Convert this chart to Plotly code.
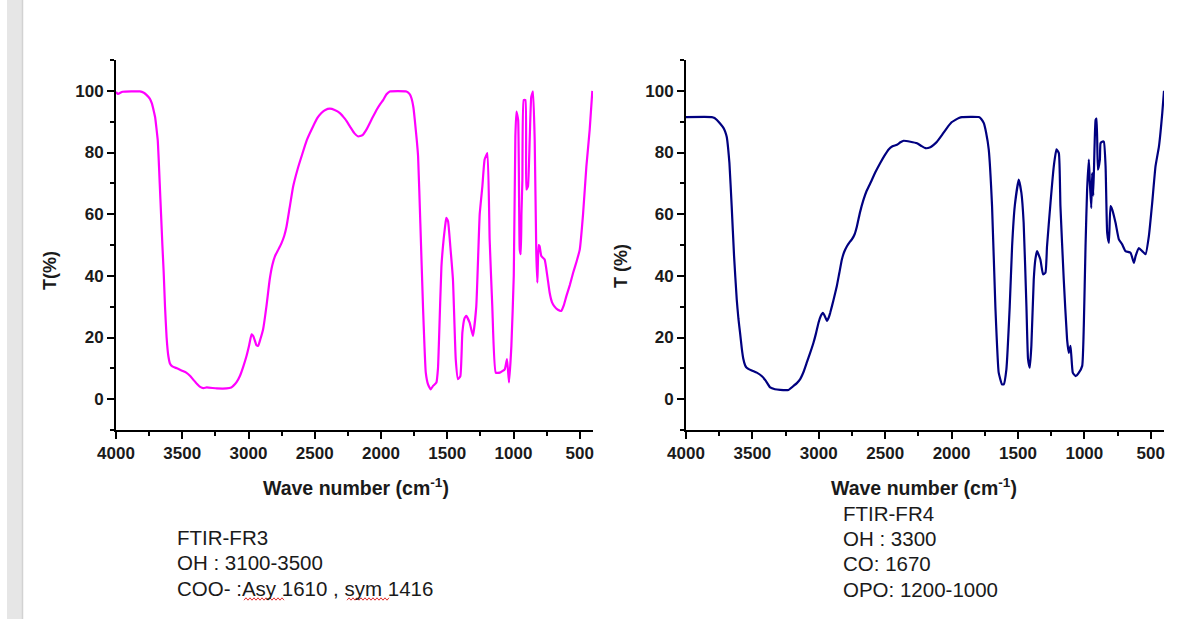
import plotly.graph_objects as go

W, H = 1190, 619

# ---------------- data ----------------
fr3_wn = [4000, 3985, 3950, 3820, 3790, 3770, 3745, 3730, 3715, 3705, 3695, 3685, 3678, 3670,
          3660, 3650, 3640, 3630, 3618, 3605, 3592, 3575, 3540, 3500, 3470, 3440, 3420, 3390,
          3365, 3340, 3315, 3240, 3165, 3130, 3115, 3090, 3065, 3040, 3015, 2995, 2977, 2965,
          2952, 2940, 2927, 2910, 2890, 2865, 2840, 2820, 2800, 2775, 2750, 2730, 2713, 2690,
          2663, 2630, 2600, 2560, 2512, 2480, 2450, 2420, 2386, 2350, 2310, 2270, 2235, 2200,
          2172, 2140, 2110, 2070, 2034, 2005, 1984, 1960, 1934, 1808, 1785, 1770, 1755, 1745,
          1730, 1720, 1703, 1683, 1662, 1645, 1625, 1607, 1582, 1570, 1562, 1544, 1527, 1515,
          1507, 1494, 1477, 1457, 1436, 1419, 1401, 1386, 1370, 1356, 1331, 1306, 1281, 1255,
          1235, 1218, 1197, 1180, 1160, 1134, 1104, 1066, 1049, 1034, 1016, 998, 986, 978,
          965, 953, 945, 940, 933, 923, 910, 903, 891, 878, 866, 853, 840, 828, 820, 810,
          803, 790, 765, 745, 727, 710, 690, 665, 640, 620, 601, 575, 550, 525, 500, 475,
          450, 425, 405]
fr3_t = [99.6, 99.0, 99.7, 99.8, 99.4, 98.7, 97.5, 96.0, 93.5, 91.5, 88.0, 84.0, 78.0, 70.0,
         60.0, 50.0, 41.0, 30.0, 20.0, 14.0, 11.5, 10.6, 10.0, 9.2, 8.6, 7.5, 6.5, 5.0,
         4.0, 3.6, 3.8, 3.5, 3.5, 3.8, 4.3, 5.5, 7.5, 10.5, 14.0, 17.5, 21.0, 20.5,
         19.0, 17.5, 17.3, 19.5, 22.6, 30.0, 38.8, 43.5, 46.4, 48.5, 50.7, 53.0, 56.0, 62.0,
         69.0, 74.5, 78.7, 84.0, 88.5, 91.2, 92.8, 93.8, 94.2, 93.8, 92.8, 90.8, 88.5, 86.2,
         85.2, 85.6, 87.4, 90.8, 93.8, 95.8, 97.0, 98.8, 99.8, 99.8, 99.0, 97.6, 94.5, 90.6,
         84.0, 78.7, 57.0, 30.0, 8.6, 4.8, 3.2, 4.3, 5.4, 10.0, 19.4, 43.0, 52.0, 56.5,
         58.8, 57.7, 49.6, 38.8, 13.0, 6.5, 7.5, 21.6, 26.2, 27.0, 24.8, 20.5, 30.0, 60.0,
         69.0, 77.7, 79.8, 51.8, 30.0, 8.6, 8.6, 9.7, 13.0, 5.4, 17.3, 40.0, 85.2, 93.3,
         90.6, 48.5, 47.0, 60.0, 71.0, 97.0, 97.0, 68.0, 69.0, 84.0, 98.0, 99.8, 84.0, 47.5, 37.8, 50.0,
         49.6, 46.4, 45.3, 40.0, 34.5, 31.5, 30.0, 29.0, 28.6, 30.5, 33.4, 37.0, 41.0, 44.5, 48.5, 60.0,
         75.5, 87.4, 100.0]

fr4_wn = [4000, 3806, 3785, 3769, 3745, 3718, 3705, 3693, 3683, 3673, 3656, 3638, 3618, 3605,
          3593, 3580, 3568, 3555, 3543, 3505, 3467, 3430, 3400, 3366, 3330, 3291, 3228, 3190,
          3165, 3140, 3115, 3090, 3065, 3040, 3020, 3002, 2985, 2969, 2955, 2939, 2925, 2914,
          2890, 2864, 2845, 2826, 2808, 2788, 2770, 2751, 2730, 2713, 2690, 2663, 2640, 2612,
          2575, 2537, 2505, 2474, 2445, 2411, 2385, 2361, 2310, 2260, 2230, 2197, 2160, 2135,
          2110, 2070, 2034, 2000, 1971, 1945, 1921, 1795, 1775, 1757, 1740, 1720, 1695, 1670,
          1645, 1620, 1607, 1587, 1562, 1544, 1524, 1494, 1474, 1457, 1436, 1424, 1411, 1399,
          1381, 1369, 1356, 1331, 1311, 1293, 1281, 1255, 1230, 1210, 1192, 1180, 1155, 1130,
          1117, 1104, 1087, 1066, 1041, 1016, 1004, 991, 979, 966, 959, 948, 941, 933,
          923, 915, 908, 898, 883, 878, 866, 853, 840, 828, 815, 803, 790, 765, 740, 715,
          690, 652, 627, 614, 589, 564, 539, 514, 489, 464, 438, 413, 400]
fr4_t = [91.5, 91.5, 91.2, 90.6, 89.5, 88.0, 86.8, 85.0, 81.5, 76.6, 62.6, 46.4, 32.4, 26.0,
         21.6, 16.5, 13.0, 11.0, 10.2, 9.3, 8.6, 7.5, 6.0, 3.8, 3.2, 3.0, 3.0, 4.3,
         5.2, 6.5, 8.8, 11.9, 15.0, 18.3, 21.5, 24.8, 27.0, 28.0, 27.0, 25.4, 26.5, 28.0,
         32.0, 36.7, 41.0, 45.3, 47.8, 49.6, 50.8, 51.8, 53.5, 56.0, 60.5, 64.7, 67.5, 70.0,
         73.5, 76.6, 79.0, 81.0, 82.0, 82.5, 83.3, 83.8, 83.5, 83.0, 82.2, 81.4, 81.7, 82.5,
         83.5, 85.8, 88.0, 89.8, 90.6, 91.2, 91.5, 91.5, 90.8, 89.5, 86.5, 81.0, 62.6, 30.0,
         8.6, 4.8, 4.8, 9.7, 30.0, 49.6, 62.6, 71.2, 66.9, 57.2, 30.0, 13.0, 10.2, 17.3,
         38.8, 45.3, 48.0, 45.3, 40.5, 41.0, 49.6, 63.6, 75.5, 81.0, 79.8, 62.6, 38.8, 19.4,
         15.0, 17.3, 8.6, 7.5, 8.6, 10.8, 23.7, 49.6, 68.0, 77.7, 70.7, 62.0, 73.3, 66.0,
         82.0, 90.6, 91.0, 74.4, 77.7, 83.0, 83.5, 83.5, 75.5, 54.0, 50.7, 62.6, 61.5, 57.2, 51.8, 50.2,
         48.0, 47.5, 44.2, 46.4, 49.0, 48.0, 47.0, 52.9, 63.6, 75.5, 82.0, 92.8, 100.0]

x_ticks = [4000, 3500, 3000, 2500, 2000, 1500, 1000, 500]
y_ticks = [0, 20, 40, 60, 80, 100]

left_notes = ["FTIR-FR3", "OH : 3100-3500", "COO- :Asy 1610 , sym 1416"]
right_notes = ["FTIR-FR4", "OH : 3300", "CO: 1670", "OPO: 1200-1000"]

# ---------------- figure ----------------
def px_x(p):
    return p / W

def px_y(p):
    return 1 - p / H

fig = go.Figure()
fig.add_trace(go.Scatter(x=fr3_wn, y=fr3_t, mode="lines",
                         line=dict(color="#ff00ff", width=2.2, shape="spline", smoothing=0.4),
                         xaxis="x", yaxis="y", showlegend=False))
fig.add_trace(go.Scatter(x=fr4_wn, y=fr4_t, mode="lines",
                         line=dict(color="#000080", width=2.2, shape="spline", smoothing=0.4),
                         xaxis="x2", yaxis="y2", showlegend=False))

FONT = "Liberation Sans, Arial, sans-serif"
tickfont = dict(family=FONT, size=17, color="#1a1a1a", weight="bold")

def xaxis(domain, anchor):
    return dict(domain=domain, anchor=anchor, range=[4000, 400], tickvals=x_ticks,
                automargin=False,
                showline=True, linewidth=2, linecolor="black", ticks="outside", ticklen=7,
                tickwidth=2, tickcolor="black", showgrid=False, zeroline=False,
                tickfont=tickfont,
                minor=dict(ticks="outside", ticklen=4, tickwidth=2, tickcolor="black", dtick=250,
                           tick0=0, showgrid=False))

def yaxis(domain, anchor):
    return dict(domain=domain, anchor=anchor, range=[-10, 110], tickvals=y_ticks,
                automargin=False,
                showline=True, linewidth=2, linecolor="black", ticks="outside", ticklen=7,
                tickwidth=2, tickcolor="black", showgrid=False, zeroline=False,
                tickfont=tickfont,
                minor=dict(ticks="outside", ticklen=4, tickwidth=2, tickcolor="black", dtick=10,
                           tick0=0, showgrid=False))

ydom = [px_y(430), px_y(60)]
fig.update_layout(
    width=W, height=H, margin=dict(l=0, r=0, t=0, b=0, pad=0, autoexpand=False),
    paper_bgcolor="white", plot_bgcolor="white",
    xaxis=xaxis([px_x(116), px_x(593)], "y"),
    yaxis=yaxis(ydom, "x"),
    xaxis2=xaxis([px_x(686), px_x(1164)], "y2"),
    yaxis2=yaxis(ydom, "x2"),
)

title_font = dict(family=FONT, size=19.5, color="#1a1a1a", weight="bold")
note_font = dict(family=FONT, size=20.5, color="#1a1a1a")

anns = []
for cx in (356, 924):
    anns.append(dict(text="Wave number (cm<sup>-1</sup>)", x=px_x(cx), y=px_y(487), xref="paper",
                     yref="paper", showarrow=False, font=title_font, xanchor="center", yanchor="middle"))
anns.append(dict(text="T(%)", x=px_x(50), y=px_y(271), xref="paper", yref="paper", showarrow=False,
                 font=dict(family=FONT, size=18, color="#1a1a1a", weight="bold"),
                 textangle=-90, xanchor="center", yanchor="middle"))
anns.append(dict(text="T (%)", x=px_x(621), y=px_y(266), xref="paper", yref="paper", showarrow=False,
                 font=dict(family=FONT, size=18, color="#1a1a1a", weight="bold"),
                 textangle=-90, xanchor="center", yanchor="middle"))
for i, t in enumerate(left_notes):
    anns.append(dict(text=t, x=px_x(175), y=px_y(537 + 25.5 * i), xref="paper", yref="paper",
                     showarrow=False, font=note_font, xanchor="left", yanchor="middle"))
for i, t in enumerate(right_notes):
    anns.append(dict(text=t, x=px_x(841), y=px_y(513.5 + 25.2 * i), xref="paper", yref="paper",
                     showarrow=False, font=note_font, xanchor="left", yanchor="middle"))
fig.update_layout(annotations=anns)

shapes = [
    dict(type="rect", xref="paper", yref="paper", x0=px_x(7), x1=px_x(22), y0=0, y1=1,
         fillcolor="#e6e6e6", line=dict(width=0), layer="below"),
    dict(type="line", xref="paper", yref="paper", x0=px_x(22.5), x1=px_x(22.5), y0=0, y1=1,
         line=dict(color="#d2d2d2", width=1.5)),
]

def squiggle(x0, x1, yc):
    pts = []
    x = x0
    k = 0
    while x <= x1:
        yy = yc + (1.2 if k % 2 == 0 else -1.2)
        pts.append((px_x(x), px_y(yy)))
        x += 2
        k += 1
    return "M " + " L ".join(f"{a:.5f},{b:.5f}" for a, b in pts)

for sx0, sx1 in ((244, 284), (347, 390)):
    shapes.append(dict(type="path", xref="paper", yref="paper", path=squiggle(sx0, sx1, 599),
                       line=dict(color="#e03030", width=1)))
fig.update_layout(shapes=shapes)

fig.write_html("out.html")
